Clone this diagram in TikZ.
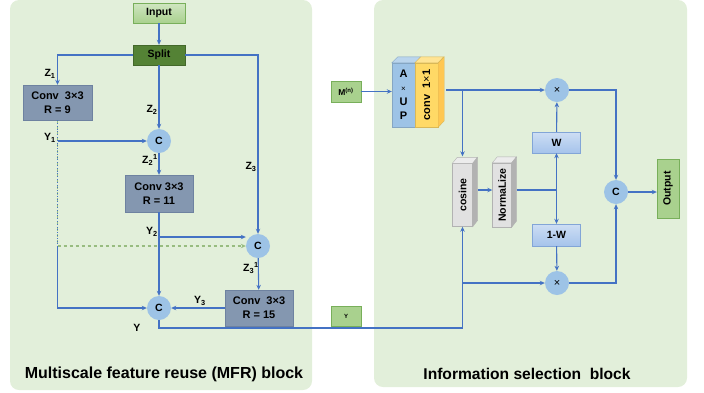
\documentclass[tikz,border=0pt]{standalone}
\usepackage{fontspec}
\setmainfont{Liberation Sans}
\usepackage{tikz}
\usetikzlibrary{arrows.meta, positioning, calc}
\definecolor{panelgreen}{RGB}{226, 239, 218}
\definecolor{linkblue}{RGB}{68, 114, 196}
\definecolor{convgray}{RGB}{132, 151, 176}
\definecolor{convedge}{RGB}{110, 130, 160}
\definecolor{catblue}{RGB}{157, 195, 230}
\definecolor{leafgreen}{RGB}{169, 209, 142}
\definecolor{leafedge}{RGB}{120, 175, 90}
\definecolor{splitgreen}{RGB}{84, 130, 53}
\definecolor{weightblue}{RGB}{165, 195, 235}
\definecolor{weightedge}{RGB}{130, 165, 215}
\definecolor{upyellow}{RGB}{255, 217, 102}
\definecolor{cosgray}{RGB}{217, 217, 217}

\begin{document}
\begin{tikzpicture}[x=1pt, y=-1pt,
    every node/.style={font=\bfseries\fontsize{10.5}{12}\selectfont},
    link/.style={draw=linkblue, line width=1.1pt},
    arr/.style={link, -{Stealth[length=5pt, width=4.5pt]}},
    convbox/.style={draw=convedge, fill=convgray, align=center, inner sep=1pt, minimum width=68pt, minimum height=36pt, font=\bfseries\fontsize{11}{14}\selectfont},
    catnode/.style={circle, fill=catblue, minimum size=24pt, inner sep=0pt},
    leafbox/.style={draw=leafedge, fill=leafgreen, inner sep=1pt},
    wbox/.style={draw=weightedge, top color=weightblue!55, bottom color=weightblue, minimum width=48pt, minimum height=21pt, inner sep=1pt},
    lbl/.style={inner sep=0pt}]
    \useasboundingbox (0,0) rectangle (704,392);

    % Panels
    \fill[panelgreen, rounded corners=9pt] (10,0) rectangle (312,390);
    \fill[panelgreen, rounded corners=9pt] (374,0) rectangle (687,387);
    \node[font=\bfseries\fontsize{16}{18}\selectfont] (mfrtitle) at (164,374) {Multiscale feature reuse (MFR) block};
    \node[font=\bfseries\fontsize{15.6}{18}\selectfont] (istitle) at (527,374) {Information selection\ \ block};

    % MFR block
    \node[leafbox, top color=leafgreen!55, bottom color=leafgreen, minimum width=52pt, minimum height=20pt] (input) at (159,13) {Input};
    \node[draw=splitgreen!80!black, fill=splitgreen, minimum width=52pt, minimum height=20pt, inner sep=1pt] (split) at (159,55) {Split};
    \node[convbox, minimum width=69pt, minimum height=35pt] (conv1) at (57.5,102.5) {Conv\ \ 3×3\\R = 9};
    \node[catnode] (c1) at (159,141) {C};
    \node[convbox, minimum height=37pt] (conv2) at (159,193.5) {Conv 3×3\\R = 11};
    \node[catnode] (c2) at (258,246) {C};
    \node[convbox] (conv3) at (259,308) {Conv\ \ 3×3\\R = 15};
    \node[catnode] (c3) at (159,308) {C};
    \coordinate (y2in) at ($(c2.west)+(0,-9)$);
    \coordinate (dropa) at (conv1.south |- c2);

    \draw[arr] (input) -- (split);
    \draw[arr] (split.west) -| (conv1.north);
    \draw[arr] (split) -- (c1);
    \draw[arr] (split.east) -| (c2.north);
    \draw[arr] (conv1.south |- c1) -- (c1.west);
    \draw[arr] (c1) -- (conv2);
    \draw[arr] (conv2) -- (c3);
    \draw[arr] (conv2.south |- y2in) -- (y2in);
    \draw[arr] (c2) -- (conv3);
    \draw[arr] (conv3) -- (c3);
    \draw[arr] (dropa) -- (conv1.south |- c3) -- (c3.west);
    \draw[leafgreen!90!black, line width=1.1pt, dashed, -{Stealth[length=5pt, width=4.5pt]}] (conv1.south) -- (dropa) -- (c2.west);
    \draw[linkblue, line width=0.8pt, dotted] (conv1.south) -- (dropa);

    \node[lbl] (z1) at (50,74) {Z\textsubscript{1}};
    \node[lbl] (z2) at (152,110) {Z\textsubscript{2}};
    \node[lbl] (y1) at (50,138) {Y\textsubscript{1}};
    \node[lbl] (z2b) at (150,160) {Z\textsubscript{2}\textsuperscript{1}};
    \node[lbl] (z3) at (251,167) {Z\textsubscript{3}};
    \node[lbl] (y2) at (152,232) {Y\textsubscript{2}};
    \node[lbl] (z3b) at (251,268) {Z\textsubscript{3}\textsuperscript{1}};
    \node[lbl] (y3) at (200,301) {Y\textsubscript{3}};
    \node[lbl] (yout) at (137,328) {Y};

    % Information selection block
    \node[leafbox, minimum width=30pt, minimum height=21pt, font=\bfseries\fontsize{8.5}{10}\selectfont] (mbox) at (346,91.5) {M\textsuperscript{(n)}};
    \node[leafbox, minimum width=30pt, minimum height=20pt, font=\bfseries\fontsize{6}{7}\selectfont] (ybox) at (346,316) {Y};

    \node[draw=catblue!85!black, fill=catblue, minimum width=23pt, minimum height=64pt, inner sep=0pt] (aup) at (403.5,95) {};
    \node[draw=upyellow!85!black, fill=upyellow, minimum width=23pt, minimum height=64pt, inner sep=0pt] (conv11) at (426.5,95) {};
    \fill[catblue!70, draw=catblue!85!black] (aup.north west) -- ++(6,-6) -- ++(23,0) -- (aup.north east) -- cycle;
    \fill[upyellow!70, draw=upyellow!85!black] (conv11.north west) -- ++(6,-6) -- ++(23,0) -- (conv11.north east) -- cycle;
    \fill[upyellow!80!orange, draw=upyellow!85!black] (conv11.north east) -- ++(6,-6) -- ++(0,64) -- (conv11.south east) -- cycle;
    \node[align=center, font=\bfseries\fontsize{11}{14}\selectfont] (auptext) at (aup) {A\\{\normalfont\fontsize{8}{14}\selectfont ×}\\U\\P};
    \node[rotate=90, font=\bfseries\fontsize{11}{12}\selectfont] (convtext) at (conv11) {conv\ \ 1{\normalfont ×}1};

    \node[draw=gray!60, fill=cosgray!80, minimum width=20pt, minimum height=63pt, inner sep=0pt] (cosine) at (462.5,195) {};
    \fill[gray!15, draw=gray!60] (cosine.north west) -- ++(5,-6) -- ++(20,0) -- (cosine.north east) -- cycle;
    \fill[gray!60, draw=gray!60] (cosine.north east) -- ++(5,-6) -- ++(0,63) -- (cosine.south east) -- cycle;
    \node[rotate=90] (costext) at (cosine) {cosine};
    \node[draw=gray!60, fill=cosgray!80, minimum width=19pt, minimum height=64pt, inner sep=0pt] (normalize) at (502,195) {};
    \fill[gray!15, draw=gray!60] (normalize.north west) -- ++(5,-6) -- ++(19,0) -- (normalize.north east) -- cycle;
    \fill[gray!60, draw=gray!60] (normalize.north east) -- ++(5,-6) -- ++(0,64) -- (normalize.south east) -- cycle;
    \node[rotate=90] (normtext) at (normalize) {NormaLize};

    \node[catnode, font=\normalfont\fontsize{11}{12}\selectfont] (cross1) at (557,90) {×};
    \node[wbox] (w) at (556.5,142.5) {W};
    \node[wbox, minimum height=22pt] (onew) at (556.5,235) {1-W};
    \node[catnode, font=\normalfont\fontsize{11}{12}\selectfont] (cross2) at (557,283) {×};
    \node[catnode] (cout) at (616,192) {C};
    \node[leafbox, minimum width=22pt, minimum height=59pt] (output) at (668,188.5) {};
    \node[rotate=90] (outtext) at (output) {Output};

    \coordinate (upout) at ($(conv11.east |- cross1)+(8,0)$);
    \coordinate (split1) at (462.5,90);
    \coordinate (costop) at ($(cosine.north)+(0,-7)$);
    \coordinate (normout) at ($(normalize.east)+(5,-5)$);
    \coordinate (wsplit) at (w.south |- normout);
    \coordinate (ylow) at (462.5,328);

    \draw[arr] (mbox) -- (aup.west |- mbox);
    \draw[arr] (upout) -- (cross1);
    \draw[arr] (split1) -- (costop);
    \draw[arr] (cross1) -| (cout);
    \draw[arr] (w) -- (cross1);
    \draw[arr] ($(cosine.east)+(5,-5)$) -- ($(normalize.west)+(0,-5)$);
    \draw[link] (normout) -- (wsplit);
    \draw[arr] (wsplit) -- (w);
    \draw[arr] (wsplit) -- (onew);
    \draw[arr] (onew) -- (cross2);
    \draw[arr] (cross2) -| (cout);
    \draw[arr] (cout) -- (output.west |- cout);
    \draw[arr] (c3.south) |- (ylow) -- (cosine.south);
    \draw[arr] (cosine.south |- cross2) -- (cross2);
\end{tikzpicture}
\end{document}
